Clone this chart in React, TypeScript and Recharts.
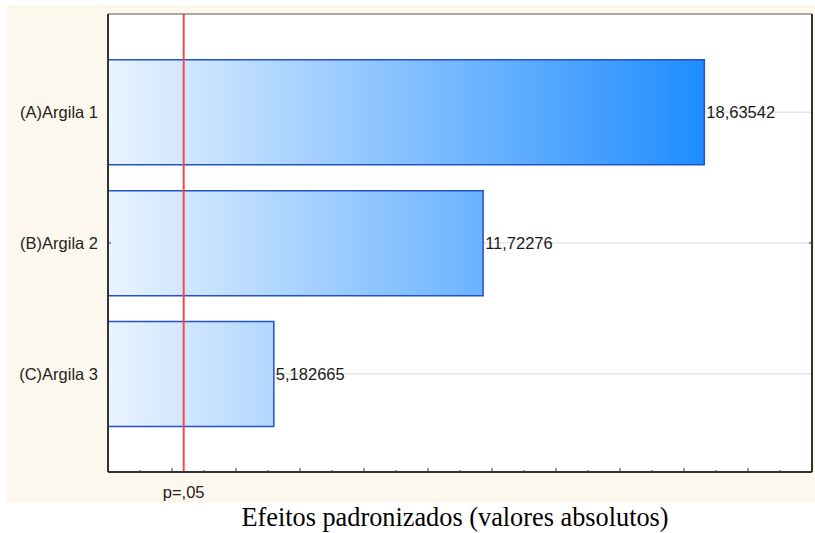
import { BarChart, Bar, XAxis, YAxis, CartesianGrid, ReferenceLine, LabelList } from 'recharts'

const factors = ['(A)Argila 1', '(B)Argila 2', '(C)Argila 3']
const effects = [18.63542, 11.72276, 5.182665]
const pCritical = 2.365
const xTicks = [0, 1, 2, 3, 4, 5, 6, 7, 8, 9, 10, 11, 12, 13, 14, 15, 16, 17, 18, 19, 20, 21, 22]
const yTicks = [0, 1, 2, 3, 4, 5, 6, 7, 8, 9, 10, 11, 12, 13, 14]
const yMajor = [3, 7, 11]

const data = factors.map((name, i) => ({ name, effect: effects[i] }))

const sans = '"Liberation Sans", Arial, sans-serif'
const serif = '"Liberation Serif", "Times New Roman", serif'
const axisColor = '#333'

const fmt = (v: number) => String(v).replace('.', ',')

// inward tick marks, drawn from the axis position recharts hands to the tick
function hTick(dir: number, max: number) {
  return (props: any) => {
    const { x, y, payload } = props
    const v = payload.value
    if (v === 0 || v === max) return <g />
    const len = v % 2 === 0 ? 4 : 2
    return <line x1={x} x2={x} y1={y} y2={y + dir * len} stroke={axisColor} strokeWidth={1} />
  }
}

function vTick(dir: number) {
  return (props: any) => {
    const { x, y, payload } = props
    const v = payload.value
    if (v === 0 || v === 14) return <g />
    const len = yMajor.includes(v) ? 5 : 3
    return <line x1={x} x2={x + dir * len} y1={y} y2={y} stroke={axisColor} strokeWidth={1} />
  }
}

export default function App() {
  return (
    <div style={{ position: 'absolute', left: 0, top: 0, width: 815, height: 533, background: '#fff' }}>
      <div style={{ position: 'absolute', left: 7, top: 5, width: 808, height: 498, background: '#fdf8ed' }} />
      <div style={{ position: 'absolute', left: 0, top: 0 }}>
        <BarChart
          width={815}
          height={533}
          data={data}
          layout="vertical"
          barCategoryGap="10%"
          margin={{ top: 13, right: 2, bottom: 60, left: 8 }}
        >
          <defs>
            <linearGradient id="barGrad" gradientUnits="userSpaceOnUse" x1={108} y1={0} x2={706} y2={0}>
              <stop offset="0%" stopColor="#eaf4ff" />
              <stop offset="100%" stopColor="#1e8cff" />
            </linearGradient>
          </defs>
          <CartesianGrid horizontal vertical={false} stroke="#d9d9d9" fill="#fff" />
          <XAxis
            type="number"
            domain={[0, 22]}
            ticks={xTicks}
            interval={0}
            height={1}
            tickSize={0}
            tickMargin={0}
            tickLine={false}
            tick={hTick(-1, 22)}
            axisLine={{ stroke: axisColor, strokeWidth: 2 }}
          />
          <XAxis
            xAxisId="top"
            orientation="top"
            type="number"
            domain={[0, 22]}
            ticks={xTicks}
            interval={0}
            height={1}
            tickSize={0}
            tickMargin={0}
            tickLine={false}
            tick={hTick(1, 22)}
            axisLine={{ stroke: '#666', strokeWidth: 1 }}
          />
          <YAxis
            type="category"
            dataKey="name"
            width={100}
            padding={{ top: 32.7, bottom: 32.7 }}
            tickSize={0}
            tickMargin={10}
            tickLine={false}
            tick={{ fontSize: 16.5, fill: '#222', fontFamily: sans }}
            axisLine={{ stroke: axisColor, strokeWidth: 2 }}
          />
          <YAxis
            yAxisId="leftMinor"
            orientation="left"
            mirror
            type="number"
            domain={[0, 14]}
            ticks={yTicks}
            interval={0}
            width={1}
            tickSize={0}
            tickMargin={0}
            tickLine={false}
            axisLine={false}
            tick={vTick(1)}
          />
          <YAxis
            yAxisId="right"
            orientation="right"
            type="number"
            domain={[0, 14]}
            ticks={yTicks}
            interval={0}
            width={1}
            tickSize={0}
            tickMargin={0}
            tickLine={false}
            tick={vTick(-1)}
            axisLine={{ stroke: axisColor, strokeWidth: 2 }}
          />
          <Bar dataKey="effect" fill="url(#barGrad)" stroke="#2352c8" strokeWidth={1.5} isAnimationActive={false}>
            <LabelList
              dataKey="effect"
              position="right"
              offset={2}
              formatter={(v: any) => fmt(Number(v))}
              fill="#1a1a1a"
              fontSize={16.5}
              fontFamily={sans}
            />
          </Bar>
          <ReferenceLine
            x={pCritical}
            stroke="#ff4444"
            strokeWidth={2}
            label={{ value: 'p=,05', position: 'bottom', offset: 14, fill: '#222', fontSize: 16.5, fontFamily: sans }}
          />
        </BarChart>
      </div>
      <div
        style={{
          position: 'absolute',
          left: 0,
          width: 910,
          top: 503,
          textAlign: 'center',
          fontFamily: serif,
          fontSize: 26.3,
          lineHeight: '30px',
          color: '#000',
        }}
      >
        Efeitos padronizados (valores absolutos)
      </div>
    </div>
  )
}
